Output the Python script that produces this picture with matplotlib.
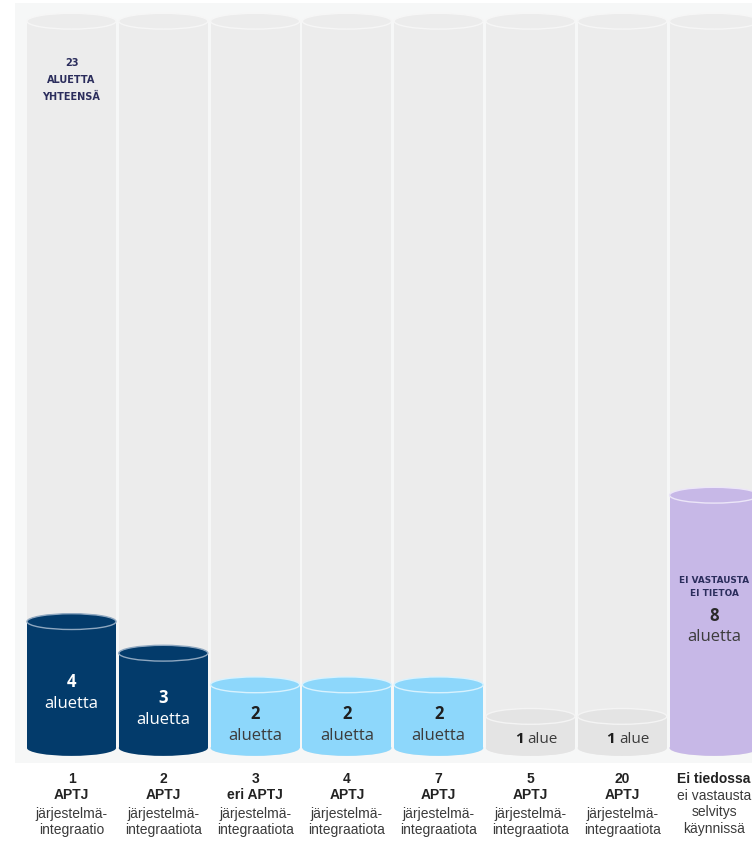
import matplotlib
matplotlib.use("Agg")
import matplotlib.pyplot as plt
from matplotlib.patches import Ellipse, Rectangle

# regions per number of APTJ system integrations
total_regions = 23
counts = [4, 3, 2, 2, 2, 1, 1, 8]
count_words = ["aluetta", "aluetta", "aluetta", "aluetta", "aluetta", "alue", "alue", "aluetta"]
bold_labels = ["1\nAPTJ", "2\nAPTJ", "3\neri APTJ", "4\nAPTJ", "7\nAPTJ", "5\nAPTJ", "20\nAPTJ", "Ei tiedossa"]
sub_labels = [
    "järjestelmä-\nintegraatio",
    "järjestelmä-\nintegraatiota",
    "järjestelmä-\nintegraatiota",
    "järjestelmä-\nintegraatiota",
    "järjestelmä-\nintegraatiota",
    "järjestelmä-\nintegraatiota",
    "järjestelmä-\nintegraatiota",
    "ei vastausta\nselvitys\nkäynnissä",
]
total_label = "23\nALUETTA\nYHTEENSÄ"
unknown_label = "EI VASTAUSTA\nEI TIETOA"

navy = "#033b6b"
sky = "#8dd7fb"
lilac = "#c7b8e7"
pale = "#e4e4e4"
fills = [navy, navy, sky, sky, sky, pale, pale, lilac]
rims = ["#8ea7c0", "#8ea7c0", "#d8f2fe", "#d8f2fe", "#d8f2fe", "#f4f4f4", "#f4f4f4", "#ece6f8"]
num_colors = ["white", "white", "#1e1e1e", "#1e1e1e", "#1e1e1e", "#1e1e1e", "#1e1e1e", "#2a2a2a"]
word_colors = ["white", "white", "#3c3c3c", "#3c3c3c", "#3c3c3c", "#3c3c3c", "#3c3c3c", "#3c3c3c"]

col_w = 0.97
ell_h = 0.5

fig = plt.figure(figsize=(7.52, 8.41), dpi=100)
ax = fig.add_axes([0, 0, 1, 1])
ax.set_xlim(-0.779, 7.413)
ax.set_ylim(-2.943, 23.671)
ax.axis("off")

# light panel behind the columns
ax.add_patch(Rectangle((0.02, 0.093), 0.99, 0.903, transform=ax.transAxes,
                       facecolor="#f6f7f7", edgecolor="none", zorder=0))


def cylinder(x, height, face, rim, z):
    ax.add_patch(Ellipse((x, 0), col_w, ell_h, facecolor=face, edgecolor="none", zorder=z))
    ax.add_patch(Rectangle((x - col_w / 2, 0), col_w, height, facecolor=face,
                           edgecolor="none", zorder=z))
    ax.add_patch(Ellipse((x, height), col_w, ell_h, facecolor=face, edgecolor=rim,
                         linewidth=1.0, zorder=z + 0.5))


# full-height background cylinders
for i in range(len(counts)):
    cylinder(i, total_regions, "#ececec", "#f6f6f6", 1)

ax.annotate(total_label, (0, total_regions), xytext=(0, -26.5), textcoords="offset points",
            ha="center", va="top", fontsize=7, fontweight="bold", color="#2b2d5c",
            linespacing=1.85, family="DejaVu Sans", zorder=5)

# value cylinders
for i, (v, word) in enumerate(zip(counts, count_words)):
    cylinder(i, v, fills[i], rims[i], 2)
    mid = v / 2
    if word == "alue":
        ax.annotate(str(v), (i, mid), xytext=(-5, -5), textcoords="offset points",
                    ha="right", va="center", fontsize=11, fontweight="bold",
                    color=num_colors[i], family="Open Sans", zorder=5)
        ax.annotate(word, (i, mid), xytext=(-2, -5), textcoords="offset points",
                    ha="left", va="center", fontsize=11, color=word_colors[i],
                    family="Open Sans", zorder=5)
        continue
    if v == 8:
        ax.annotate(unknown_label, (i, mid), xytext=(0, 25), textcoords="offset points",
                    ha="center", va="center", fontsize=6.4, fontweight="bold",
                    color="#2b2d5c", linespacing=1.6, family="DejaVu Sans", zorder=5)
        num_off, word_off = 4, -11
    else:
        num_off, word_off = 2, -14
    ax.annotate(str(v), (i, mid), xytext=(0, num_off), textcoords="offset points",
                ha="center", va="center", fontsize=12, fontweight="bold",
                color=num_colors[i], family="Open Sans", zorder=5)
    ax.annotate(word, (i, mid), xytext=(0, word_off), textcoords="offset points",
                ha="center", va="center", fontsize=12, color=word_colors[i],
                family="Open Sans", zorder=5)

# category labels under the columns
for i, (top, sub) in enumerate(zip(bold_labels, sub_labels)):
    n_bold = top.count("\n") + 1
    ax.annotate(top, (i, 0), xytext=(0, -17), textcoords="offset points",
                ha="center", va="top", fontsize=10, fontweight="bold",
                color="#222222", family="Liberation Sans", zorder=5)
    ax.annotate(sub, (i, 0), xytext=(0, -17 - 12.6 * n_bold), textcoords="offset points",
                ha="center", va="top", fontsize=10, color="#3a3a3a",
                family="Liberation Sans", zorder=5)

fig.savefig("out.png", dpi=100, facecolor="white")
plt.close(fig)
